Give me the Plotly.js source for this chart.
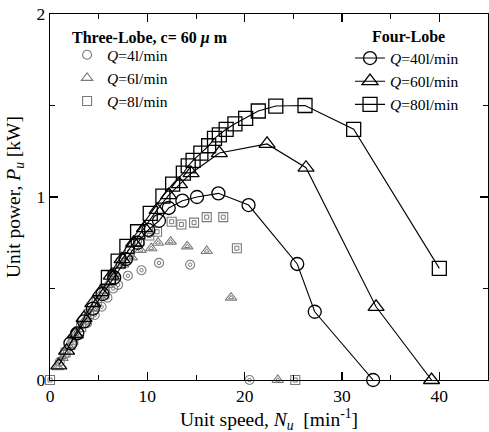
<!DOCTYPE html>
<html>
<head>
<meta charset="utf-8">
<script src="https://cdn.plot.ly/plotly-3.0.1.min.js"></script>
<style>html,body{margin:0;padding:0;background:#fff;}#chart{width:489px;height:432px;}</style>
</head>
<body>
<div id="chart"></div>
<script>
// Four-Lobe (lines + open markers)
const fourQ40x = [2.1, 2.8, 3.5, 4.4, 5.4, 6.6, 7.8, 9.0, 10.1, 11.2, 12.2, 13.6, 15.1, 17.3, 20.4, 25.4, 27.2, 33.2];
const fourQ40y = [0.20, 0.255, 0.32, 0.39, 0.47, 0.56, 0.66, 0.75, 0.82, 0.87, 0.94, 0.98, 1.00, 1.02, 0.956, 0.634, 0.373, 0];
const fourQ60x = [0.9, 1.7, 2.6, 3.5, 4.4, 5.2, 6.3, 7.4, 8.6, 9.7, 11.0, 12.2, 13.3, 14.5, 17.4, 22.3, 26.3, 33.5, 39.2];
const fourQ60y = [0.08, 0.16, 0.25, 0.34, 0.42, 0.48, 0.57, 0.66, 0.75, 0.83, 0.93, 1.01, 1.07, 1.13, 1.24, 1.29, 1.16, 0.40, 0];
const fourQ80x = [6.0, 7.0, 7.9, 9.0, 10.3, 11.6, 12.6, 13.7, 14.2, 14.7, 15.5, 16.3, 16.9, 17.4, 18.1, 19.0, 20.1, 21.4, 23.2, 26.2, 31.2, 40.0];
const fourQ80y = [0.56, 0.65, 0.73, 0.81, 0.91, 1.005, 1.07, 1.13, 1.17, 1.20, 1.24, 1.28, 1.32, 1.34, 1.37, 1.40, 1.43, 1.47, 1.497, 1.50, 1.37, 0.61];

// Three-Lobe, c = 60 um (markers only)
const threeQ4x = [1.0, 1.5, 2.2, 3.0, 3.8, 4.6, 5.3, 5.9, 6.5, 7.0, 8.0, 9.4, 11.2, 14.4, 20.5];
const threeQ4y = [0.10, 0.14, 0.20, 0.26, 0.31, 0.355, 0.40, 0.45, 0.50, 0.52, 0.57, 0.60, 0.64, 0.63, 0];
const threeQ6x = [0.8, 1.3, 2.0, 2.7, 3.5, 4.3, 5.1, 5.9, 6.6, 7.5, 8.4, 9.3, 10.4, 11.1, 12.4, 14.1, 16.1, 18.6, 23.4];
const threeQ6y = [0.07, 0.12, 0.18, 0.25, 0.32, 0.39, 0.46, 0.52, 0.58, 0.63, 0.67, 0.71, 0.72, 0.75, 0.756, 0.73, 0.705, 0.45, 0];
const threeQ8x = [0, 1.6, 2.4, 3.2, 4.0, 4.8, 5.6, 6.4, 7.3, 8.2, 9.2, 10.2, 11.0, 12.5, 13.5, 14.8, 16.1, 17.8, 19.2, 25.2];
const threeQ8y = [0, 0.15, 0.22, 0.29, 0.36, 0.43, 0.50, 0.57, 0.64, 0.70, 0.76, 0.79, 0.81, 0.865, 0.85, 0.86, 0.89, 0.89, 0.72, 0];

const xTicks = [0, 10, 20, 30, 40];
const yTicks = [0, 1, 2];

const labels3 = ['<i>Q</i>=4l/min', '<i>Q</i>=6l/min', '<i>Q</i>=8l/min'];
const labels4 = ['<i>Q</i>=40l/min', '<i>Q</i>=60l/min', '<i>Q</i>=80l/min'];
const title3 = '<b>Three-Lobe, c= 60 <i>μ</i> m</b>';
const title4 = '<b>Four-Lobe</b>';
const xTitle = 'Unit speed, <i>N</i><sub><i>u</i></sub>  [min<sup>-1</sup>]';
const yTitle = 'Unit power, <i>P</i><sub><i>u</i></sub> [kW]';

const gray = '#7a7a7a';
const serif = 'Liberation Serif';

function three(x, y, sym, name, outer, inner) {
  return [
    {x, y, type: 'scatter', mode: 'markers', name, legend: 'legend',
     marker: {symbol: sym + '-open', size: outer, color: gray, line: {width: 1.1, color: gray}}},
    {x, y, type: 'scatter', mode: 'markers', showlegend: false, hoverinfo: 'skip',
     marker: {symbol: sym + '-open', size: inner, color: gray, line: {width: 1, color: gray}}}
  ];
}
function four(x, y, sym, name, size) {
  return {x, y, type: 'scatter', mode: 'lines+markers', name, legend: 'legend2',
    line: {color: '#000', width: 1.1},
    marker: {symbol: sym + '-open', size, color: '#000', line: {width: 1.3, color: '#000'}}};
}

const data = [
  ...three(threeQ4x, threeQ4y, 'circle', labels3[0], 9, 3.5),
  ...three(threeQ6x, threeQ6y, 'triangle-up', labels3[1], 10, 4.5),
  ...three(threeQ8x, threeQ8y, 'square', labels3[2], 9, 4),
  four(fourQ40x, fourQ40y, 'circle', labels4[0], 13),
  four(fourQ60x, fourQ60y, 'triangle-up', labels4[1], 14),
  four(fourQ80x, fourQ80y, 'square', labels4[2], 14)
];
data.forEach(t => t.cliponaxis = false);

const axisCommon = {
  showgrid: false, zeroline: false, showline: true, linecolor: '#000', linewidth: 1.2,
  mirror: 'allticks', ticks: 'inside', ticklen: 8, tickwidth: 1.2, tickcolor: '#000',
  tickfont: {family: serif, size: 17.5, color: '#000'},
  minor: {ticks: 'inside', ticklen: 5, tickwidth: 1, tickcolor: '#000'}
};

const layout = {
  width: 489, height: 432,
  margin: {l: 50, r: 1, t: 14, b: 52},
  paper_bgcolor: '#fff', plot_bgcolor: '#fff',
  font: {family: serif, color: '#000'},
  xaxis: Object.assign({}, axisCommon, {
    range: [0, 45], tickvals: xTicks, ticktext: xTicks.map(String),
    minor: Object.assign({}, axisCommon.minor, {tickvals: [5, 15, 25, 35]})
  }),
  yaxis: Object.assign({}, axisCommon, {
    range: [0, 2], tickvals: yTicks, ticktext: yTicks.map(String),
    minor: Object.assign({}, axisCommon.minor, {tickvals: [0.5, 1.5]}),
    title: {text: yTitle, font: {family: serif, size: 19.5}, standoff: 10}
  }),
  legend: {
    x: 0.039, y: 0.934, xanchor: 'left', yanchor: 'top',
    bgcolor: 'rgba(0,0,0,0)', borderwidth: 0,
    font: {family: serif, size: 15.5, color: '#000'},
    tracegroupgap: 0, itemwidth: 30
  },
  legend2: {
    x: 0.685, y: 0.925, xanchor: 'left', yanchor: 'top',
    bgcolor: 'rgba(0,0,0,0)', borderwidth: 0,
    font: {family: serif, size: 15.5, color: '#000'},
    tracegroupgap: 0, itemwidth: 30
  },
  annotations: [
    {text: title3, xref: 'paper', yref: 'paper', x: 0.046, y: 0.935, xanchor: 'left', yanchor: 'middle',
     showarrow: false, font: {family: serif, size: 16, color: '#000'}},
    {text: title4, xref: 'paper', yref: 'paper', x: 0.818, y: 0.938, xanchor: 'center', yanchor: 'middle',
     showarrow: false, font: {family: serif, size: 16, color: '#000'}},
    {text: xTitle, xref: 'paper', yref: 'paper', x: 0.5, y: -0.107, xanchor: 'center', yanchor: 'middle',
     showarrow: false, font: {family: serif, size: 19.5, color: '#000'}}
  ],
  showlegend: true
};

Plotly.newPlot('chart', data, layout, {displayModeBar: false, staticPlot: true});
</script>
</body>
</html>
